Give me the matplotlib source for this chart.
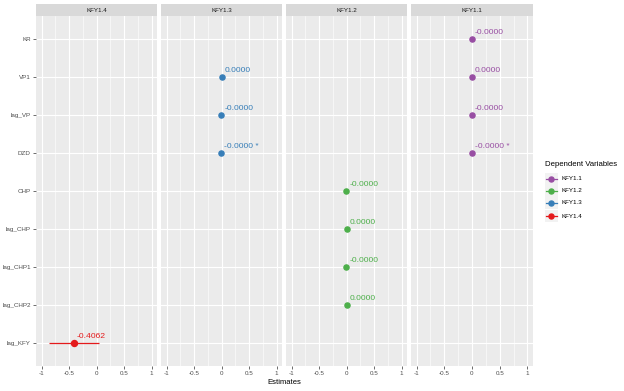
import matplotlib
matplotlib.use("Agg")
import matplotlib.pyplot as plt
from matplotlib.patches import Rectangle

plt.rcParams['font.family'] = ['Liberation Sans', 'DejaVu Sans']

# Data
variables = ['KR', 'VP1', 'lag_VP', 'DZD', 'CHP', 'lag_CHP', 'lag_CHP1', 'lag_CHP2', 'lag_KFY']
models = ['KFY1.4', 'KFY1.3', 'KFY1.2', 'KFY1.1']
colors = {'KFY1.1': '#984EA3', 'KFY1.2': '#4DAF4A', 'KFY1.3': '#377EB8', 'KFY1.4': '#E41A1C'}

kfy11_terms = ['KR', 'VP1', 'lag_VP', 'DZD']
kfy11_est = [-0.00001, 0.00001, -0.00001, -0.00001]
kfy11_se = [0.00001, 0.00001, 0.00001, 0.00001]
kfy11_stars = ['', '', '', ' *']

kfy12_terms = ['CHP', 'lag_CHP', 'lag_CHP1', 'lag_CHP2']
kfy12_est = [-0.00001, 0.00001, -0.00001, 0.00001]
kfy12_se = [0.00001, 0.00001, 0.00001, 0.00001]
kfy12_stars = ['', '', '', '']

kfy13_terms = ['VP1', 'lag_VP', 'DZD']
kfy13_est = [0.00001, -0.00001, -0.00001]
kfy13_se = [0.00001, 0.00001, 0.00001]
kfy13_stars = ['', '', ' *']

kfy14_terms = ['lag_KFY']
kfy14_est = [-0.4062]
kfy14_se = [0.46]
kfy14_stars = ['']

results = {
    'KFY1.1': (kfy11_terms, kfy11_est, kfy11_se, kfy11_stars),
    'KFY1.2': (kfy12_terms, kfy12_est, kfy12_se, kfy12_stars),
    'KFY1.3': (kfy13_terms, kfy13_est, kfy13_se, kfy13_stars),
    'KFY1.4': (kfy14_terms, kfy14_est, kfy14_se, kfy14_stars),
}

W, H = 624, 391
fig = plt.figure(figsize=(W / 100, H / 100), dpi=100)

def px(x0, y0, x1, y1):
    # pixel box (top-left origin) -> figure fraction
    return [x0 / W, 1 - y1 / H, (x1 - x0) / W, (y1 - y0) / H]

panel_x = [(36, 157), (161, 282), (286, 407), (411, 533)]
ytop, ybot = 16, 366
ypos = {v: len(variables) - 1 - i for i, v in enumerate(variables)}

for i, m in enumerate(models):
    x0, x1 = panel_x[i]
    ax = fig.add_axes(px(x0, ytop, x1, ybot))
    ax.set_facecolor('#EBEBEB')
    ax.set_xlim(-1.1, 1.1)
    ax.set_ylim(-0.6, len(variables) - 0.4)
    ax.set_xticks([-1, -0.5, 0, 0.5, 1])
    ax.set_xticklabels(['-1', '-0.5', '0', '0.5', '1'])
    ax.set_xticks([-0.75, -0.25, 0.25, 0.75], minor=True)
    ax.set_yticks(list(ypos.values()))
    ax.grid(True, which='major', color='white', linewidth=0.8)
    ax.grid(True, which='minor', axis='x', color='white', linewidth=0.4)
    ax.set_axisbelow(True)
    for s in ax.spines.values():
        s.set_visible(False)
    ax.tick_params(axis='both', which='major', labelsize=4.5, labelcolor='#4D4D4D',
                   color='#333333', length=2.2, width=0.5, pad=1.5)
    ax.tick_params(axis='x', which='minor', length=0)
    if i == 0:
        ax.set_yticklabels(list(ypos.keys()))
    else:
        ax.set_yticklabels([])
        ax.tick_params(axis='y', length=0)

    terms, est, se, stars = results[m]
    c = colors[m]
    ys = [ypos[t] for t in terms]
    ax.errorbar(est, ys, xerr=se, fmt='o', color=c, ecolor=c, elinewidth=0.9,
                markersize=3.7 if m != 'KFY1.4' else 4.3, capsize=0, zorder=3)
    for e, y, st in zip(est, ys, stars):
        ax.annotate(f'{e:.4f}{st}', (e, y), xytext=(2.0, 2.0), textcoords='offset points',
                    fontsize=6.1, color=c, ha='left', va='bottom')

    # strip
    sax = fig.add_axes(px(x0, 4, x1, 16))
    sax.set_facecolor('#D9D9D9')
    sax.set_xticks([])
    sax.set_yticks([])
    for s in sax.spines.values():
        s.set_visible(False)
    sax.text(0.5, 0.5, m, ha='center', va='center', fontsize=4.5, color='#1A1A1A',
             transform=sax.transAxes)

fig.text(284 / W, 1 - 382 / H, 'Estimates', ha='center', va='center', fontsize=5.5, color='black')

# legend
lax = fig.add_axes([0, 0, 1, 1])
lax.set_xlim(0, W)
lax.set_ylim(H, 0)
lax.axis('off')
lax.text(545, 165, 'Dependent Variables', fontsize=5.6, ha='left', va='center', color='black')
leg_models = ['KFY1.1', 'KFY1.2', 'KFY1.3', 'KFY1.4']
leg_y = [179, 191, 203, 216]
for m, y in zip(leg_models, leg_y):
    lax.add_patch(Rectangle((545, y - 6), 12.5, 12, facecolor='#F2F2F2', edgecolor='none'))
    lax.plot([546, 556.5], [y, y], color=colors[m], linewidth=0.9)
    lax.plot([551.2], [y], 'o', color=colors[m], markersize=3.6)
    lax.text(561, y, m, fontsize=4.5, ha='left', va='center', color='black')

fig.savefig('out.png', dpi=100)
